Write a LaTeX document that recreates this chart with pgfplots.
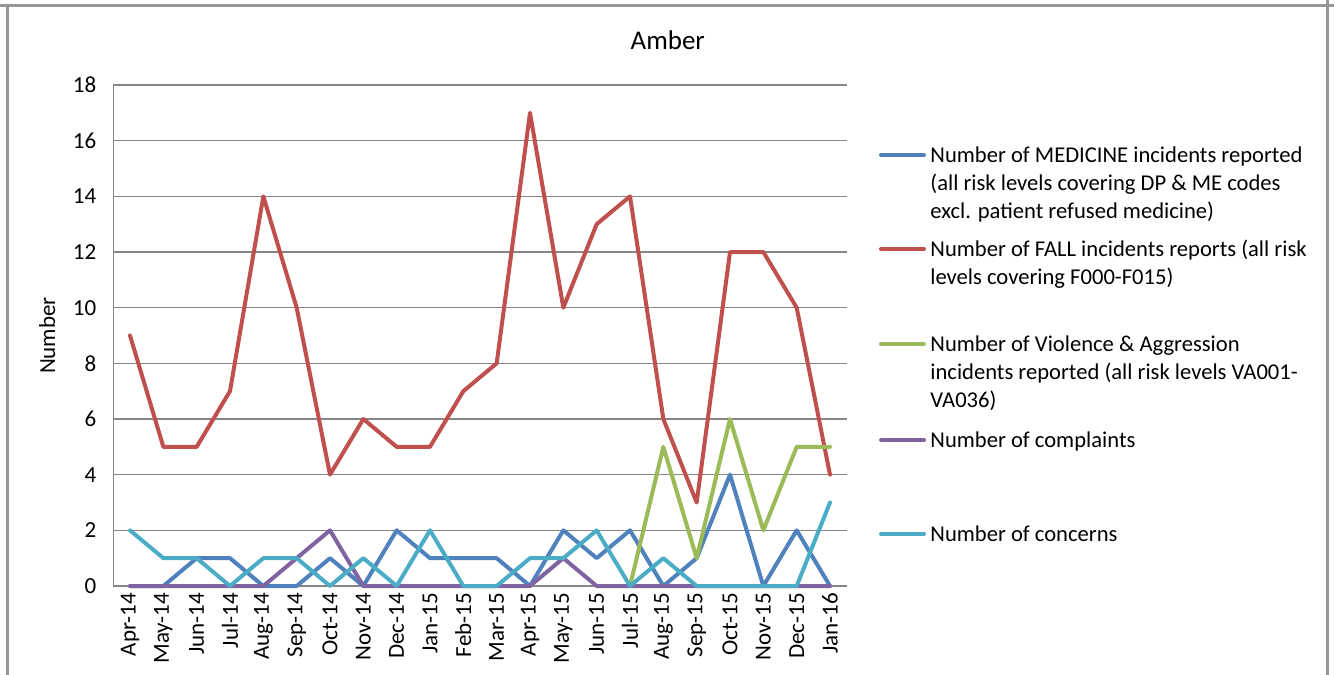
\documentclass[border=0pt]{standalone}
\usepackage{fontspec}
\setmainfont{Carlito}
\usepackage{pgfplots}
\pgfplotsset{compat=1.18}
\definecolor{serblue}{HTML}{4F81BD}
\definecolor{serred}{HTML}{C0504D}
\definecolor{sergreen}{HTML}{9BBB59}
\definecolor{serpurple}{HTML}{8064A2}
\definecolor{sercyan}{HTML}{4BACC6}
\definecolor{gridgray}{RGB}{134,134,134}
\definecolor{framegray}{RGB}{150,150,150}

\begin{document}
\begin{tikzpicture}
% page size: 1334x675 px at 0.5pt per px
\path[use as bounding box] (0,0) rectangle (667pt,-337.5pt);

\begin{axis}[
  at={(56.67pt,-293pt)}, anchor=south west,
  scale only axis,
  width=366.67pt, height=250.5pt,
  xmin=-0.5, xmax=21.5,
  ymin=0, ymax=18,
  ytick={0,2,...,18},
  xtick={0,...,21},
  xticklabels={Apr-14,May-14,Jun-14,Jul-14,Aug-14,Sep-14,Oct-14,Nov-14,Dec-14,Jan-15,Feb-15,Mar-15,Apr-15,May-15,Jun-15,Jul-15,Aug-15,Sep-15,Oct-15,Nov-15,Dec-15,Jan-16},
  axis x line=bottom, axis y line=left,
  axis line style={draw=gridgray, line width=0.8pt, -},
  major tick length=0pt,
  ymajorgrids,
  grid style={draw=gridgray, line width=0.8pt},
  /pgf/number format/assume math mode=true,
  tick label style={font=\fontsize{11.5}{13}\selectfont},
  yticklabel style={xshift=-5pt},
  xticklabel style={rotate=90, anchor=east},
  ylabel={Number},
  every axis y label/.style={at={(axis description cs:-0.09,0.5)}, rotate=90,
    anchor=center, font=\fontsize{11.5}{13}\selectfont},
  title={Amber},
  every axis title/.style={at={(axis description cs:0.756,1.09)}, anchor=center,
    font=\fontsize{13.5}{15}\selectfont},
  clip=false,
  every axis plot/.append style={line width=2pt, line join=round, line cap=round},
]
\addplot[serblue] coordinates {
  (0,0)(1,0)(2,1)(3,1)(4,0)(5,0)(6,1)(7,0)(8,2)(9,1)(10,1)
  (11,1)(12,0)(13,2)(14,1)(15,2)(16,0)(17,1)(18,4)(19,0)(20,2)(21,0)
};
\addplot[serred] coordinates {
  (0,9)(1,5)(2,5)(3,7)(4,14)(5,10)(6,4)(7,6)(8,5)(9,5)(10,7)
  (11,8)(12,17)(13,10)(14,13)(15,14)(16,6)(17,3)(18,12)(19,12)(20,10)(21,4)
};
\addplot[sergreen] coordinates {
  (15,0)(16,5)(17,1)(18,6)(19,2)(20,5)(21,5)
};
\addplot[serpurple] coordinates {
  (0,0)(1,0)(2,0)(3,0)(4,0)(5,1)(6,2)(7,0)(8,0)(9,0)(10,0)
  (11,0)(12,0)(13,1)(14,0)(15,0)(16,0)(17,0)(18,0)(19,0)(20,0)(21,0)
};
\addplot[sercyan] coordinates {
  (0,2)(1,1)(2,1)(3,0)(4,1)(5,1)(6,0)(7,1)(8,0)(9,2)(10,0)
  (11,0)(12,1)(13,1)(14,2)(15,0)(16,1)(17,0)(18,0)(19,0)(20,0)(21,3)
};
\end{axis}

% frame and legend, in pixel units
\begin{scope}[x=0.5pt, y=-0.5pt]
  \draw[framegray, line width=1.5pt] (0,5) -- (1334,5);
  \draw[framegray, line width=1.5pt] (7,5) -- (7,675);
  \draw[framegray, line width=1.5pt] (1327,0) -- (1327,675);

  \begin{scope}[line width=2pt, line cap=round]
    \draw[serblue]   (881,155) -- (924,155);
    \draw[serred]    (881,249) -- (924,249);
    \draw[sergreen]  (881,344) -- (924,344);
    \draw[serpurple] (881,440) -- (924,440);
    \draw[sercyan]   (881,534) -- (924,534);
  \end{scope}
  \begin{scope}[every node/.style={anchor=base west, inner sep=0pt,
      font=\fontsize{11.3}{14}\selectfont}]
    \node at (930,162) {Number of MEDICINE incidents reported};
    \node at (930,190) {(all risk levels covering DP \& ME codes};
    \node at (930,218) {excl. patient refused medicine)};
    \node at (930,256) {Number of FALL incidents reports (all risk};
    \node at (930,284) {levels covering F000-F015)};
    \node at (930,351) {Number of Violence \& Aggression};
    \node at (930,379) {incidents reported (all risk levels VA001-};
    \node at (930,407) {VA036)};
    \node at (930,447) {Number of complaints};
    \node at (930,541) {Number of concerns};
  \end{scope}
\end{scope}
\end{tikzpicture}
\end{document}
